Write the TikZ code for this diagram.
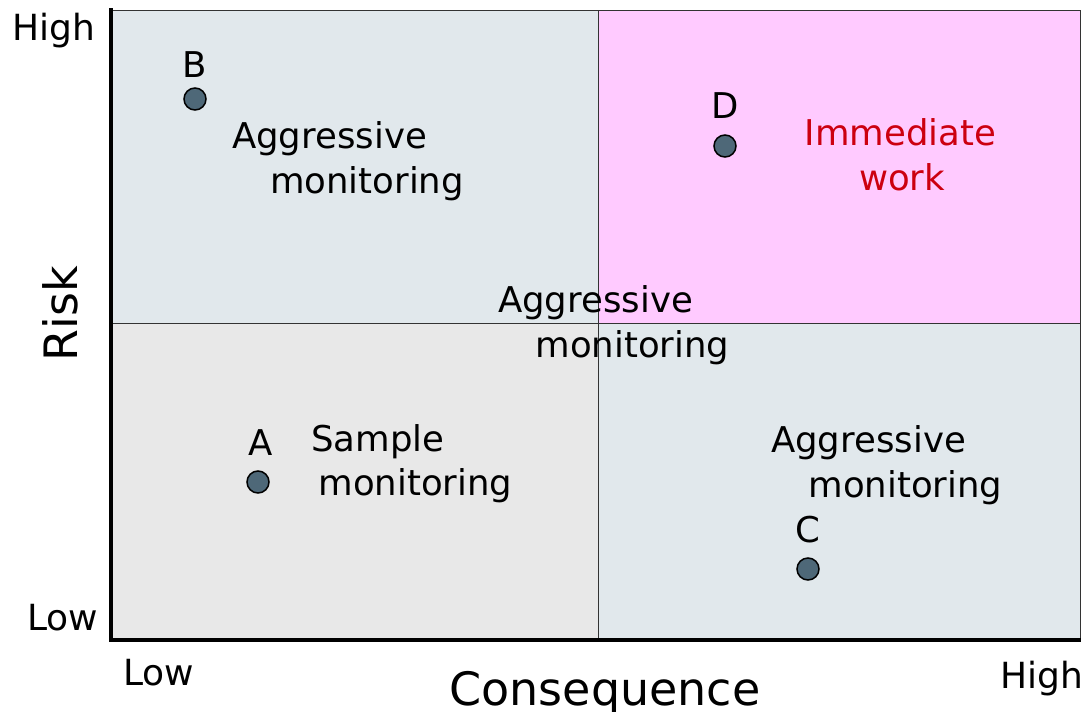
\documentclass[tikz,border=0pt]{standalone}
\usepackage{fontspec}
\setmainfont{DejaVu Sans}
\definecolor{quadblue}{HTML}{E1E8EC}
\definecolor{quadgray}{HTML}{E8E8E8}
\definecolor{quadpink}{HTML}{FFCAFF}
\definecolor{dotfill}{HTML}{4E6878}
\definecolor{urgent}{HTML}{CC0010}
\begin{document}
\begin{tikzpicture}[x=1pt,y=-1pt,
  lbl/.style={anchor=base,inner sep=0pt,font=\fontsize{35.5}{40}\selectfont},
  axislbl/.style={anchor=base,inner sep=0pt,font=\fontsize{36}{40}\selectfont},
  axistitle/.style={inner sep=0pt,font=\fontsize{46}{52}\selectfont},
  dot/.style={circle,draw=black,line width=1.5pt,fill=dotfill,minimum size=22pt,inner sep=0pt}]
\useasboundingbox (0,0) rectangle (1087,712);

% quadrants
\fill[quadblue] (111,10) rectangle (598,323);
\fill[quadpink] (598,10) rectangle (1080,323);
\fill[quadgray] (111,323) rectangle (598,640);
\fill[quadblue] (598,323) rectangle (1080,640);

% frame and dividers
\draw[black!80,line width=1pt] (111,10) -- (1080,10) -- (1080,640);
\draw[black!80,line width=1pt] (598,10) -- (598,640);
\draw[black!80,line width=1pt] (111,323) -- (1080,323);

% axes
\draw[black,line width=3.5pt] (111,8) -- (111,640) -- (1081,640);

% quadrant texts
\node[lbl] at (329.5,148) {Aggressive};
\node[lbl] at (367,193) {monitoring};
\node[lbl,text=urgent] at (900.5,145) {Immediate};
\node[lbl,text=urgent] at (902,190) {work};
\node[lbl] at (378,451) {Sample};
\node[lbl] at (415.5,495) {monitoring};
\node[lbl] at (868.5,452) {Aggressive};
\node[lbl] at (905.5,497) {monitoring};
\node[lbl] at (595.5,312) {Aggressive};
\node[lbl] at (632.5,357) {monitoring};

% points
\node[dot] (B) at (195,99) {};
\node[dot] (D) at (725,146) {};
\node[dot] (A) at (258,482) {};
\node[dot] (C) at (808,569) {};
\node[lbl] (Blbl) at (195,77) {B};
\node[lbl] (Dlbl) at (725,118) {D};
\node[lbl] (Albl) at (261,455) {A};
\node[lbl] (Clbl) at (808,542) {C};

% axis labels
\node[axislbl] (yhigh) at (54,40) {High};
\node[axislbl] (ylow) at (62.5,630) {Low};
\node[axislbl] (xlow) at (158.5,685) {Low};
\node[axislbl] (xhigh) at (1042,688) {High};
\node[axistitle,rotate=90] (risk) at (60,314) {Risk};
\node[axistitle,anchor=base] (cons) at (605,705) {Consequence};
\end{tikzpicture}
\end{document}
